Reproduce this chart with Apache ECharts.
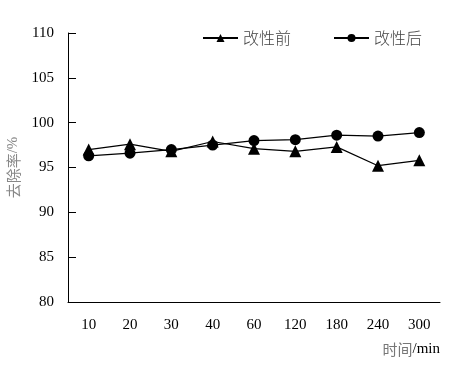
<!DOCTYPE html>
<html><head><meta charset="utf-8">
<script src="https://cdn.jsdelivr.net/npm/echarts@6/dist/echarts.min.js"></script>
<style>html,body{margin:0;padding:0;background:#fff}#c{width:460px;height:365px}</style>
</head><body><div id="c"></div>
<script>
var categories = ['10','20','30','40','60','120','180','240','300'];
var before = [97.0, 97.6, 96.8, 97.9, 97.1, 96.8, 97.3, 95.2, 95.8];
var after = [96.3, 96.6, 97.0, 97.5, 98.0, 98.1, 98.6, 98.5, 98.9];
var seriesNames = ['改性前', '改性后'];
var yMin = 80, yMax = 110, yStep = 5;

var serif = 'Liberation Serif, Times New Roman, serif';
var cjk = 'Noto Sans CJK SC';
var chart = echarts.init(document.getElementById('c'), null, {renderer: 'canvas'});
chart.setOption({
  animation: false,
  backgroundColor: '#fff',
  grid: {left: 68, right: 20, top: 33, bottom: 63, containLabel: false, outerBoundsMode: 'none'},
  legend: {
    left: 197, top: 25, itemWidth: 35, itemHeight: 10, itemGap: 42,
    textStyle: {fontFamily: cjk, fontSize: 16, color: '#444', fontWeight: 300},
    data: seriesNames
  },
  xAxis: {
    type: 'category', data: categories, boundaryGap: true,
    axisLine: {lineStyle: {color: '#000', width: 1}},
    axisTick: {inside: true, length: 6, lineStyle: {color: '#000'}},
    axisLabel: {fontFamily: serif, fontSize: 15, color: '#000', margin: 16},
    name: '{a|时间}{b|/min}', nameLocation: 'end', nameGap: 0,
    nameTextStyle: {align: 'right', verticalAlign: 'top', padding: [40, 0, 0, 0],
      rich: {a: {fontFamily: cjk, fontSize: 15, color: '#777'}, b: {fontFamily: serif, fontSize: 15, color: '#000'}}}
  },
  yAxis: {
    type: 'value', min: yMin, max: yMax, interval: yStep,
    splitLine: {show: false},
    axisLine: {show: true, lineStyle: {color: '#000', width: 1}},
    axisTick: {show: true, inside: true, length: 8, lineStyle: {color: '#000'}},
    axisLabel: {fontFamily: serif, fontSize: 15, color: '#000', margin: 14},
    name: '{a|去除率}{b|/%}', nameLocation: 'middle', nameGap: 46, nameRotate: 90,
    nameTextStyle: {rich: {a: {fontFamily: cjk, fontSize: 15, color: '#888'}, b: {fontFamily: serif, fontSize: 15, color: '#888'}}}
  },
  series: [
    {name: seriesNames[0], type: 'line', data: before, symbol: 'triangle', symbolSize: 12,
     itemStyle: {color: '#000'}, lineStyle: {color: '#000', width: 1.2}},
    {name: seriesNames[1], type: 'line', data: after, symbol: 'circle', symbolSize: 11,
     itemStyle: {color: '#000'}, lineStyle: {color: '#000', width: 1.2}}
  ]
});
</script></body></html>
